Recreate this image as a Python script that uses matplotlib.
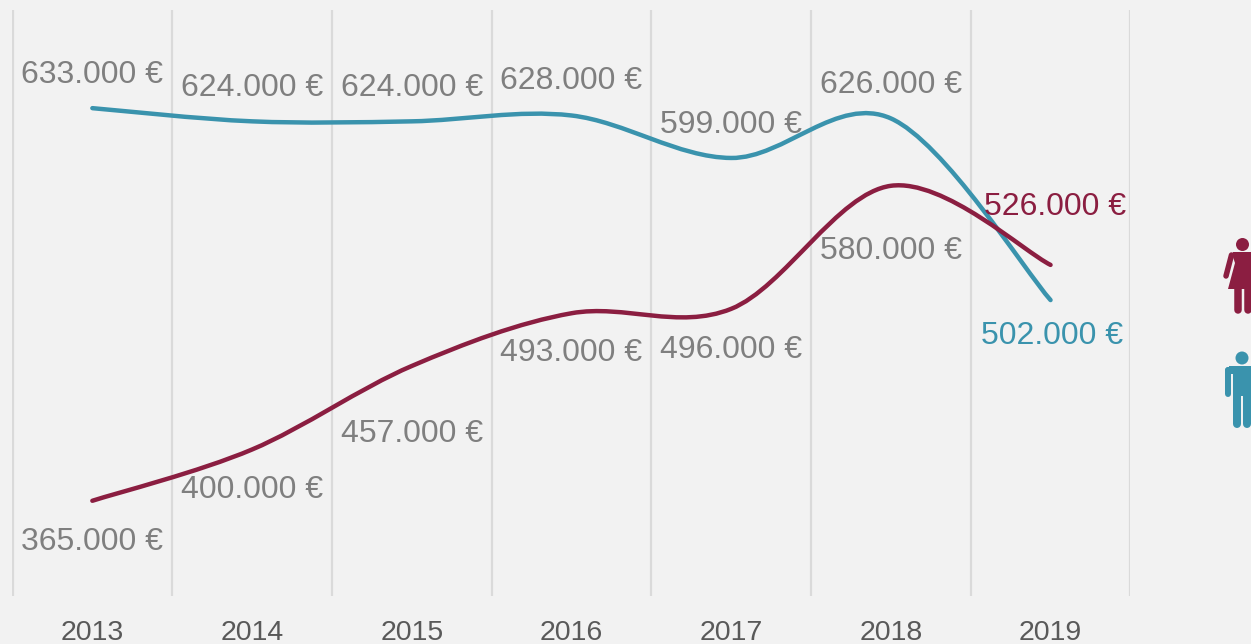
import matplotlib
matplotlib.use('Agg')
import matplotlib.pyplot as plt
from matplotlib.path import Path
from matplotlib.patches import PathPatch, Polygon, Circle
import numpy as np

plt.rcParams['font.family'] = ['Liberation Sans', 'DejaVu Sans']

years = ['2013', '2014', '2015', '2016', '2017', '2018', '2019']
men = [633, 624, 624, 628, 599, 626, 502]
women = [365, 400, 457, 493, 496, 580, 526]

# label offsets from the point, in pixels (x right, y down)
men_offsets = [(0, -33), (0, -33), (0, -33), (0, -34), (0, -33), (0, -33), (2, 36)]
women_offsets = [(0, 41), (0, 41), (0, 68), (0, 40), (0, 41), (0, 65), (5, -58)]

BG = '#F2F2F2'
TEAL = '#3A93AD'
MAROON = '#8B1E41'
GREY = '#7F7F7F'
W, H = 1251, 644

def smooth_path(ys):
    # excel style smoothed line, catmull-rom as bezier segments
    pts = np.column_stack([np.arange(len(ys)), ys]).astype(float)
    verts = [pts[0]]
    codes = [Path.MOVETO]
    for i in range(len(pts) - 1):
        prev = pts[max(i - 1, 0)]
        nxt = pts[min(i + 2, len(pts) - 1)]
        verts += [pts[i] + (pts[i + 1] - prev) / 6, pts[i + 1] - (nxt - pts[i]) / 6, pts[i + 1]]
        codes += [Path.CURVE4] * 3
    return Path(verts, codes)

def label(ax, x, y, value, offset, color):
    txt = '{}.000 €'.format(value)
    ax.annotate(txt, (x, y), xytext=(offset[0] * 0.72, -offset[1] * 0.72),
                textcoords='offset points', ha='center', va='center',
                fontsize=23, color=color)

fig = plt.figure(figsize=(W / 100, H / 100), dpi=100, facecolor=BG)
ax = fig.add_axes([12.5 / W, 1 - 596 / H, (1130.4 - 12.5) / W, 586 / H], facecolor=BG)
ax.set_xlim(-0.5, 6.5)
ax.set_ylim(300, 700)

ax.set_xticks(range(len(years)))
ax.set_xticklabels(years, fontsize=20.5, color='#595959')
ax.set_xticks(np.arange(-0.5, 7), minor=True)
ax.set_yticks([])
ax.tick_params(axis='x', which='both', length=0, pad=17)
ax.grid(True, axis='x', which='minor', color='#DADADA', lw=1.6)
ax.set_axisbelow(True)
for spine in ax.spines.values():
    spine.set_visible(False)

ax.add_patch(PathPatch(smooth_path(men), fill=False, ec=TEAL, lw=3.2, capstyle='round', zorder=3))
ax.add_patch(PathPatch(smooth_path(women), fill=False, ec=MAROON, lw=3.2, capstyle='round', zorder=3))

for i, v in enumerate(men):
    label(ax, i, v, v, men_offsets[i], TEAL if i == 6 else GREY)
for i, v in enumerate(women):
    label(ax, i, v, v, women_offsets[i], MAROON if i == 6 else GREY)

# icons on the right, drawn on an overlay in pixel coords
ic = fig.add_axes([0, 0, 1, 1], facecolor='none')
ic.set_xlim(0, W)
ic.set_ylim(H, 0)
ic.axis('off')

def limb(x0, y0, x1, y1, width, color):
    ic.plot([x0, x1], [y0, y1], color=color, lw=width * 0.72, solid_capstyle='round')

# woman
ic.add_patch(Circle((1242.5, 244.5), 6.5, color=MAROON, lw=0))
ic.add_patch(Polygon([(1233, 252), (1262, 252), (1262, 289), (1228, 289), (1235, 263), (1233, 257)], color=MAROON, lw=0))
limb(1231.5, 255, 1226, 276, 5.5, MAROON)
limb(1238, 288, 1238, 310, 7.5, MAROON)
limb(1247.5, 288, 1247.5, 310, 7.5, MAROON)

# man
ic.add_patch(Circle((1242, 358), 6.5, color=TEAL, lw=0))
ic.add_patch(Polygon([(1229, 366), (1256, 366), (1256, 396), (1233, 396), (1233, 373), (1229, 373)], color=TEAL, lw=0))
limb(1228, 369.5, 1228, 393.5, 6, TEAL)
limb(1228, 369.5, 1240, 369.5, 7, TEAL)
limb(1237, 395, 1237, 424, 8, TEAL)
limb(1247, 395, 1247, 424, 8, TEAL)

fig.savefig('out.png', dpi=100, facecolor=BG)
